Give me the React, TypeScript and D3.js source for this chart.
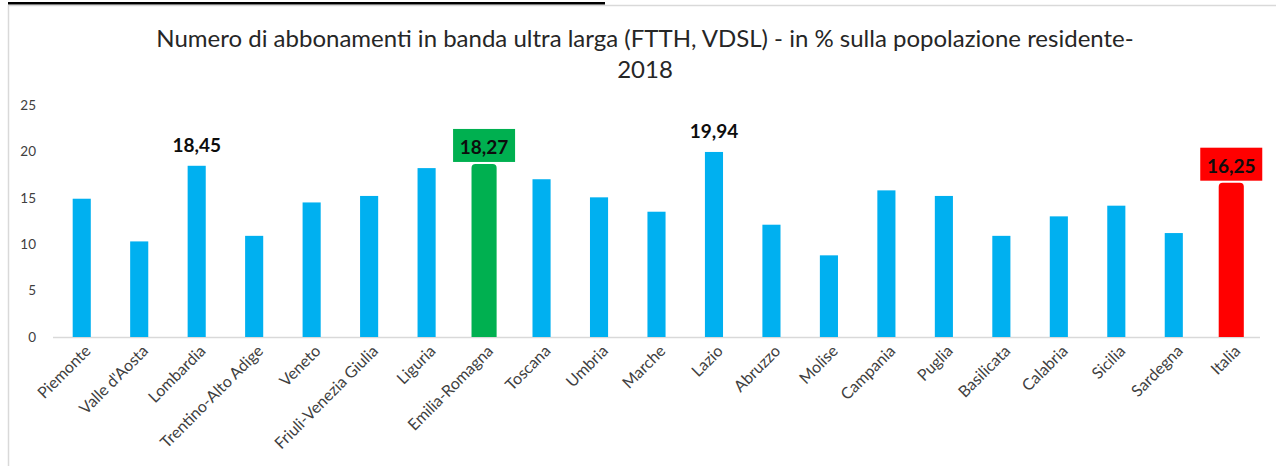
import React from "react";
import * as d3 from "d3";

const categories = [
  "Piemonte", "Valle d'Aosta", "Lombardia", "Trentino-Alto Adige", "Veneto",
  "Friuli-Venezia Giulia", "Liguria", "Emilia-Romagna", "Toscana", "Umbria",
  "Marche", "Lazio", "Abruzzo", "Molise", "Campania", "Puglia", "Basilicata",
  "Calabria", "Sicilia", "Sardegna", "Italia",
];
const values = [
  14.9, 10.3, 18.45, 10.9, 14.5, 15.2, 18.2, 18.27, 17.0, 15.05,
  13.5, 19.94, 12.1, 8.8, 15.8, 15.2, 10.9, 13.0, 14.15, 11.2, 16.25,
];
const yTicks = [0, 5, 10, 15, 20, 25];
const labeledPlain = ["Lombardia", "Lazio"];
const highlighted: Record<string, string> = {
  "Emilia-Romagna": "#00b050",
  Italia: "#ff0000",
};
const titleLines = [
  "Numero di abbonamenti in banda ultra larga (FTTH, VDSL) - in % sulla popolazione residente-",
  "2018",
];

const W = 1276;
const H = 466;
const FONT = "Lato, 'Open Sans', sans-serif";

const fmt = (v: number) => v.toFixed(2).replace(".", ",");

export default function App() {
  const x = d3.scaleBand<string>().domain(categories).range([53, 1260]).padding(0);
  const y = d3.scaleLinear().domain([0, 25]).range([337, 105]);
  const bw = x.bandwidth() * 0.315;
  const stroke = 3.5;

  return (
    <svg
      width={W}
      height={H}
      style={{ position: "fixed", left: 0, top: 0, background: "#fff" }}
      fontFamily={FONT}
    >
      <rect x={0} y={0} width={W} height={H} fill="#fff" />
      {/* frame */}
      <line x1={8} x2={W} y1={5.5} y2={5.5} stroke="#d9d9d9" strokeWidth={1.5} />
      <line x1={8.5} x2={8.5} y1={5} y2={H} stroke="#d9d9d9" strokeWidth={1.5} />
      <rect x={8} y={2} width={597} height={2.5} fill="#000" />

      {/* title */}
      {titleLines.map((t, i) => (
        <text
          key={i}
          x={645}
          y={47 + i * 31}
          textAnchor="middle"
          fontSize={24}
          fill="#262626"
        >
          {t}
        </text>
      ))}

      {/* y ticks */}
      {yTicks.map((t) => (
        <text
          key={t}
          x={36}
          y={y(t)}
          dy="0.36em"
          textAnchor="end"
          fontSize={13.5}
          fill="#404040"
        >
          {t}
        </text>
      ))}

      {/* axis */}
      <line x1={53} x2={1260} y1={y(0) + 0.5} y2={y(0) + 0.5} stroke="#d9d9d9" strokeWidth={1.5} />

      {/* bars */}
      {categories.map((c, i) => {
        const v = values[i];
        const cx = (x(c) as number) + x.bandwidth() / 2;
        const top = y(v);
        const col = highlighted[c];
        if (col) {
          const hw = bw / 2 + stroke;
          const r = 4;
          const t0 = top - stroke;
          const b0 = y(0);
          const d = `M${cx - hw},${b0} L${cx - hw},${t0 + r} Q${cx - hw},${t0} ${cx - hw + r},${t0} L${cx + hw - r},${t0} Q${cx + hw},${t0} ${cx + hw},${t0 + r} L${cx + hw},${b0} Z`;
          const boxBottom = t0 - 2;
          return (
            <g key={c}>
              <path d={d} fill={col} />
              <rect x={cx - 31} y={boxBottom - 33} width={62} height={33} fill={col} />
              <text
                x={cx}
                y={boxBottom - 8}
                textAnchor="middle"
                fontSize={19}
                fontWeight="bold"
                fill="#0d0d0d"
              >
                {fmt(v)}
              </text>
            </g>
          );
        }
        return (
          <g key={c}>
            <rect x={cx - bw / 2} y={top} width={bw} height={y(0) - top} fill="#00b0f0" />
            {labeledPlain.includes(c) && (
              <text
                x={cx}
                y={top - 14}
                textAnchor="middle"
                fontSize={19}
                fontWeight="bold"
                fill="#0d0d0d"
              >
                {fmt(v)}
              </text>
            )}
          </g>
        );
      })}

      {/* category labels */}
      {categories.map((c) => {
        const cx = (x(c) as number) + x.bandwidth() / 2;
        return (
          <text
            key={c}
            transform={`translate(${cx + 10},${352}) rotate(-45)`}
            textAnchor="end"
            fontSize={16}
            fill="#404040"
          >
            {c}
          </text>
        );
      })}
    </svg>
  );
}
